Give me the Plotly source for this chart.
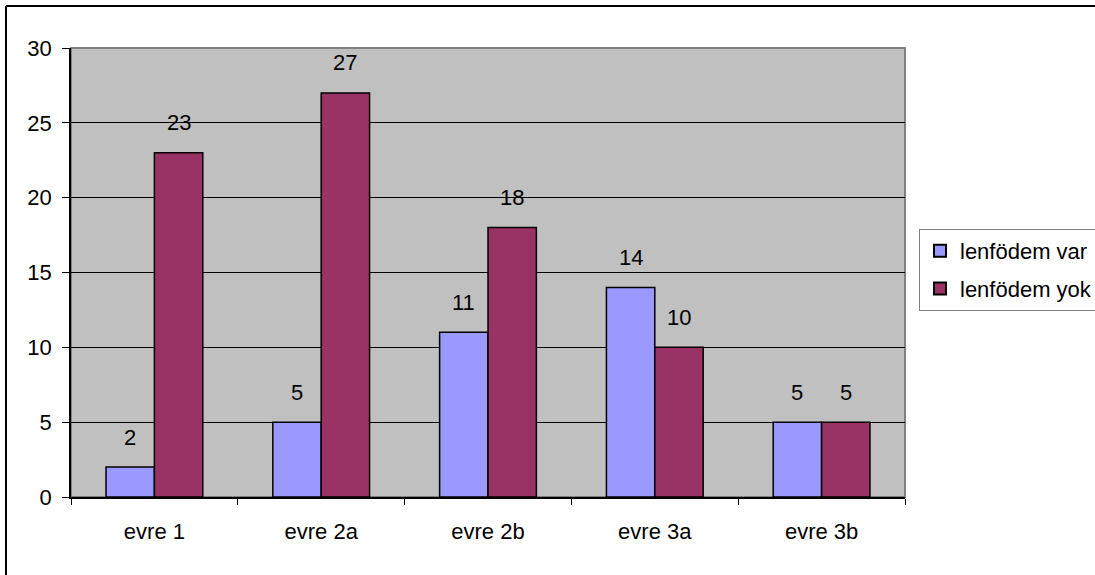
import plotly.graph_objects as go

categories = ["evre 1", "evre 2a", "evre 2b", "evre 3a", "evre 3b"]
var_values = [2, 5, 11, 14, 5]
yok_values = [23, 27, 18, 10, 5]
series_names = ["lenfödem var", "lenfödem yok"]
y_ticks = [0, 5, 10, 15, 20, 25, 30]

FONT = "Liberation Sans, Arial, sans-serif"
FS = 22
W, H = 1095, 575
ML, MR, MT, MB = 71, 190, 48, 78
plot_w = W - ML - MR
plot_h = H - MT - MB
bargap = 0.42
bar_px = plot_w / len(categories) * (1 - bargap) / 2

fig = go.Figure()
fig.add_trace(go.Bar(x=categories, y=var_values, name=series_names[0],
                     marker=dict(color="#9999FF", line=dict(color="black", width=1.5)),
                     legendgroup="a"))
fig.add_trace(go.Bar(x=categories, y=yok_values, name=series_names[1],
                     marker=dict(color="#993366", line=dict(color="black", width=1.5)),
                     legendgroup="b"))

annotations = []
for vals, sh in ((var_values, -bar_px / 2), (yok_values, bar_px / 2)):
    for c, v in zip(categories, vals):
        annotations.append(dict(x=c, y=v, xref="x", yref="y", text=str(v),
                                showarrow=False, xshift=sh, yshift=30,
                                yanchor="middle",
                                font=dict(family=FONT, size=FS, color="black")))

fig.update_layout(
    width=W, height=H,
    margin=dict(l=ML, r=MR, t=MT, b=MB),
    paper_bgcolor="white",
    plot_bgcolor="#C0C0C0",
    barmode="group",
    bargap=bargap,
    bargroupgap=0,
    font=dict(family=FONT, size=FS, color="black"),
    showlegend=True,
    legend=dict(xref="container", yref="container",
                x=919 / W, y=1 - 229 / H,
                xanchor="left", yanchor="top",
                bgcolor="white", bordercolor="#808080", borderwidth=1,
                font=dict(family=FONT, size=FS, color="black"),
                traceorder="grouped", tracegroupgap=6,
                itemsizing="constant"),
    annotations=annotations,
    shapes=[
        dict(type="line", xref="paper", yref="paper",
             x0=(6 - ML) / plot_w, x1=(6 - ML) / plot_w,
             y0=-(MB + 5) / plot_h, y1=1 + (MT - 6) / plot_h,
             line=dict(color="black", width=2), layer="below"),
        dict(type="line", xref="paper", yref="paper",
             x0=(6 - ML) / plot_w, x1=(W + 10 - ML) / plot_w,
             y0=1 + (MT - 6) / plot_h, y1=1 + (MT - 6) / plot_h,
             line=dict(color="black", width=2), layer="below"),
        dict(type="rect", xref="paper", yref="paper", x0=0, x1=1, y0=0, y1=1,
             line=dict(color="#808080", width=2), fillcolor="rgba(0,0,0,0)",
             layer="below"),
    ],
)

fig.update_xaxes(
    showline=True, linecolor="black", linewidth=1.5,
    ticks="outside", tickson="boundaries", ticklen=6, tickcolor="black",
    ticklabelstandoff=14,
    tickfont=dict(family=FONT, size=FS, color="black"),
    showgrid=False, zeroline=False,
)
fig.update_yaxes(
    range=[0, 30], tickvals=y_ticks,
    showline=True, linecolor="black", linewidth=1.5,
    ticks="outside", ticklen=7, tickcolor="black",
    ticklabelstandoff=6,
    tickfont=dict(family=FONT, size=FS, color="black"),
    showgrid=True, gridcolor="black", gridwidth=1,
    zeroline=False,
)

fig.write_html("out.html")
